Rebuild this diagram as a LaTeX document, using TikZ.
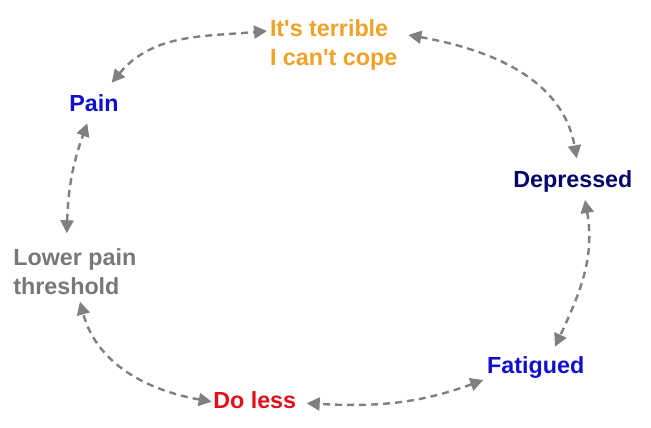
\documentclass[tikz,border=0pt]{standalone}
\usepackage{fontspec}
\setmainfont{Liberation Sans}
\usetikzlibrary{arrows.meta,calc}
\definecolor{cgray}{RGB}{128,128,128}
\definecolor{corange}{RGB}{240,162,40}
\definecolor{cblue}{RGB}{15,15,205}
\definecolor{cnavy}{RGB}{5,5,110}
\definecolor{cred}{RGB}{225,15,25}
\definecolor{ctext}{RGB}{120,120,120}
\tikzset{
  lbl/.style={inner sep=0pt, outer sep=0pt, anchor=base west, align=left,
    font=\bfseries\fontsize{23.3pt}{29.3pt}\selectfont},
  conn/.style={draw=cgray, line width=2.4pt, dash pattern=on 7pt off 5pt,
    {Triangle[length=13pt,width=13pt]}-{Triangle[length=13pt,width=13pt]}}
}
\begin{document}
\begin{tikzpicture}[x=1pt,y=1pt]
\fill[white] (0,0) rectangle (651,-428);
\useasboundingbox (0,0) rectangle (651,-428);
% base anchor of a two-line label = baseline of its last line
\node[lbl, text=corange] (terr) at (270,-66) {It\textquotesingle s terrible\\I can\textquotesingle t cope};
\node[lbl, text=cblue] (pain) at (69.3,-111.7) {Pain};
\node[lbl, text=cnavy] (dep) at (513.3,-187.7) {Depressed};
\node[lbl, text=ctext] (lower) at (13.3,-294.3) {Lower pain\\threshold};
\node[lbl, text=cred] (doless) at (213.3,-408.3) {Do less};
\node[lbl, text=cblue] (fatig) at (487.2,-373.3) {Fatigued};
% connectors
\draw[conn] ($(pain.base west)+(42.4,29)$) to[out=50,in=185] ($(terr.base west)+(-3,35)$);
\draw[conn] ($(terr.base west)+(138.3,31)$) to[out=-10,in=100] ($(dep.base west)+(63.4,29.4)$);
\draw[conn] ($(dep.base west)+(71.7,-12.3)$) to[out=-80,in=65] ($(fatig.base west)+(67.8,26.6)$);
\draw[conn] ($(fatig.base west)+(-3.9,-6.7)$) to[out=200,in=-3] ($(doless.base west)+(93.4,5)$);
\draw[conn] ($(doless.base west)+(-1.6,6.6)$) to[out=170,in=-75] ($(lower.base west)+(66.7,-7.4)$);
\draw[conn] ($(lower.base west)+(53.4,61)$) to[out=88,in=-110] ($(pain.base west)+(18,-11.6)$);
\end{tikzpicture}
\end{document}
